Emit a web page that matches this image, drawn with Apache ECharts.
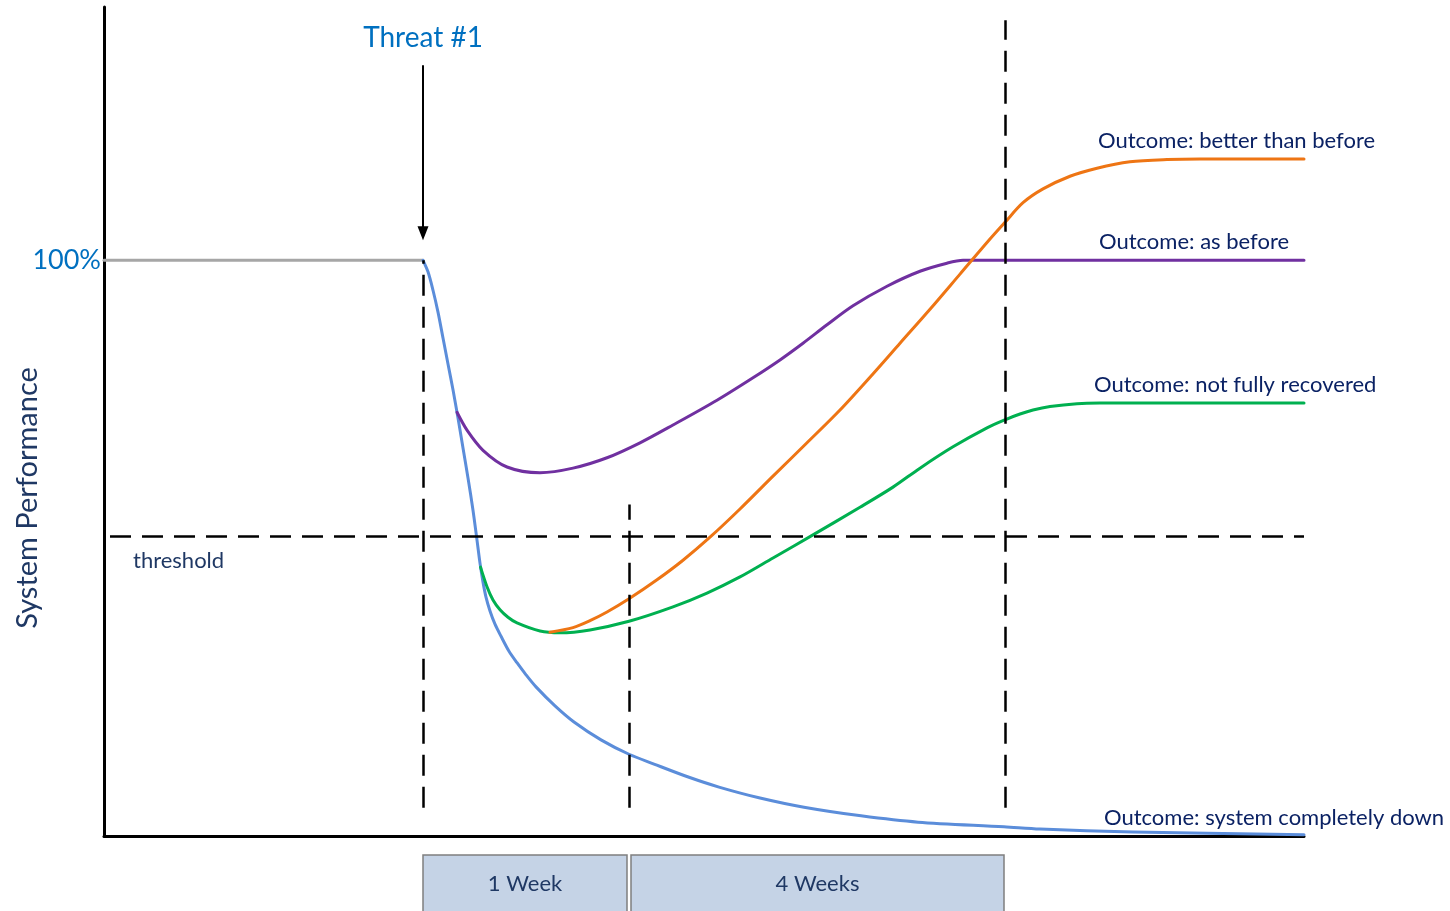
<!DOCTYPE html>
<html>
<head>
<meta charset="utf-8">
<script src="https://cdn.jsdelivr.net/npm/echarts@6/dist/echarts.min.js"></script>
<style>
  html, body { margin: 0; padding: 0; background: #fff; }
  #chart { width: 1450px; height: 911px; }
</style>
</head>
<body>
<div id="chart"></div>
<script>
// Time runs along x (schematic units), system performance in % along y.
const timeMax = 120;
const performanceMax = 144;

// Performance before the threat hits
const baseline = [[0, 100], [31.9, 100]];

// Outcome: system completely down
const systemDown = [
  [31.9, 100], [32.4, 98.0], [32.9, 94.8], [33.4, 91.0], [33.9, 86.5],
  [34.4, 82.0], [34.9, 77.5], [35.4, 72.6], [35.9, 67.4], [36.4, 62.2],
  [36.9, 56.6], [37.3, 51.4], [37.6, 47.4], [37.9, 44.1], [38.2, 41.5],
  [38.6, 39.1], [39.1, 36.8], [39.7, 34.7], [40.5, 32.1], [41.3, 30.1],
  [42.2, 28.0], [43.2, 25.9], [45.1, 22.6], [47.0, 19.8], [49.7, 16.7],
  [52.5, 14.2], [55.0, 12.5], [58.5, 10.2], [61.5, 8.5], [65.6, 6.6],
  [70.0, 5.0], [75.7, 3.5], [81.4, 2.4], [90.0, 1.6], [93.6, 1.2],
  [102.9, 0.7], [120, 0.2]
];

// Outcome: as before
const asBefore = [
  [35.3, 73.6], [36.3, 70.5], [37.9, 67.0], [40.3, 64.1], [43.6, 63.1],
  [46.9, 63.9], [50.3, 65.7], [53.6, 68.3], [56.9, 71.4], [61.3, 75.7],
  [64.9, 79.6], [67.6, 82.7], [69.9, 85.6], [72.3, 88.8], [74.9, 92.1],
  [78.3, 95.5], [81.6, 98.1], [84.3, 99.5], [85.9, 100], [87.6, 100],
  [120, 100]
];

// Outcome: not fully recovered
const notFullyRecovered = [
  [37.65, 46.7], [38.3, 43.3], [38.9, 41.0], [39.6, 39.3], [40.4, 38.0],
  [41.3, 37.0], [43.6, 35.6], [45.6, 35.3], [48.6, 35.8], [52.5, 37.3],
  [56.9, 39.8], [60.3, 42.2], [63.6, 45.0], [66.9, 48.3], [70.9, 52.3],
  [75.6, 57.1], [78.9, 60.6], [81.6, 63.9], [84.9, 67.6], [88.3, 70.9],
  [90.1, 72.3], [91.6, 73.3], [92.9, 74.0], [94.6, 74.6], [97.3, 75.1],
  [99.6, 75.2], [120, 75.2]
];

// Outcome: better than before (branches off the recovery curve near its minimum)
const betterThanBefore = [
  [44.6, 35.4], [46.9, 36.2], [48.6, 37.4], [50.3, 38.9], [52.5, 41.2],
  [55.3, 44.5], [57.9, 47.9], [60.6, 51.9], [63.6, 56.8], [66.9, 62.5],
  [70.3, 68.3], [73.6, 74.0], [76.6, 79.7], [79.6, 85.6], [82.6, 91.5],
  [85.6, 97.6], [88.6, 103.7], [90.1, 106.6], [91.9, 110.0], [93.9, 112.4],
  [96.6, 114.6], [99.3, 116.0], [102.6, 117.1], [106.3, 117.5], [109.6, 117.6],
  [120, 117.6]
];

// Reference markers
const thresholdLevel = 52.1;
const thresholdSpan = [0.6, 120];
const guideX = [31.9, 52.5, 90.1];        // threat, end of week 1, end of week 4
const guideTop = [100, 57.6, 141.7];
const guideBottom = 4.9;
const threatArrow = [133.9, 104.7];       // arrow from / to (performance %)

// Time phases shown below the axis
const phaseLabels = ['1 Week', '4 Weeks'];
const phaseStart = [31.9, 52.7];
const phaseEnd = [52.3, 90.0];

const outcomeLabels = [
  'Outcome: better than before',
  'Outcome: as before',
  'Outcome: not fully recovered',
  'Outcome: system completely down'
];
const outcomeLevels = [117.6, 100, 75.2, 0];

const FONT = 'Lato, "Open Sans", sans-serif';
const NAVY = '#0B2264';
const DARK = '#1F3864';

const chart = echarts.init(document.getElementById('chart'), null, { renderer: 'canvas' });

function curve(name, data, color) {
  return {
    name, type: 'line', data, smooth: 0.3, symbol: 'none', silent: true,
    lineStyle: { color, width: 3, cap: 'round', join: 'round' }, z: 3
  };
}

const dashed = { color: '#000', width: 2.5, type: [21, 11] };

const guideLines = guideX.map((x, i) => [
  { coord: [x, guideBottom], lineStyle: dashed },
  { coord: [x, guideTop[i]] }
]);
guideLines.push([
  { coord: [thresholdSpan[0], thresholdLevel], lineStyle: dashed },
  { coord: [thresholdSpan[1], thresholdLevel] }
]);
guideLines.push([
  { coord: [guideX[0], threatArrow[0]], symbol: 'none', lineStyle: { color: '#000', width: 2, type: 'solid' } },
  { coord: [guideX[0], threatArrow[1]], symbol: 'triangle', symbolSize: [11, 14] }
]);

chart.setOption({
  animation: false,
  backgroundColor: '#fff',
  grid: { left: 104, right: 146, top: 7, bottom: 75, containLabel: false, outerBoundsMode: 'none' },
  xAxis: {
    type: 'value', min: 0, max: timeMax,
    axisLine: { show: true, onZero: false, lineStyle: { color: '#000', width: 3 } },
    axisTick: { show: false }, axisLabel: { show: false }, splitLine: { show: false }
  },
  yAxis: {
    type: 'value', min: 0, max: performanceMax, interval: 100,
    axisLine: { show: true, lineStyle: { color: '#000', width: 3 } },
    axisTick: { show: false }, splitLine: { show: false },
    axisLabel: {
      margin: 3, color: '#0070C0', fontSize: 27, fontFamily: FONT,
      formatter: v => (v === 100 ? '100%' : '')
    }
  },
  series: [
    curve('baseline', baseline, '#A6A6A6'),
    curve('system completely down', systemDown, '#5B8DDA'),
    curve('as before', asBefore, '#7030A0'),
    curve('not fully recovered', notFullyRecovered, '#00B050'),
    curve('better than before', betterThanBefore, '#EE7514'),
    {
      name: 'guides', type: 'line', data: [], silent: true,
      markLine: {
        silent: true, symbol: 'none', label: { show: false },
        animation: false, data: guideLines
      }
    }
  ]
});

// Text annotations and phase boxes placed through the axes' scales
const px = p => chart.convertToPixel({ gridIndex: 0 }, p);
const graphics = [];

// vertical axis title
graphics.push({
  type: 'text', x: 28, y: 498, rotation: Math.PI / 2,
  style: { text: 'System Performance', fill: DARK, font: '29px ' + FONT, align: 'center', verticalAlign: 'middle' }
});

const threatPos = px([guideX[0], threatArrow[0]]);
graphics.push({
  type: 'text', x: threatPos[0], y: threatPos[1] - 27,
  style: { text: 'Threat #1', fill: '#0070C0', font: '28px ' + FONT, align: 'center', verticalAlign: 'middle' }
});

const thrPos = px([thresholdSpan[0], thresholdLevel]);
graphics.push({
  type: 'text', x: 133, y: thrPos[1] + 25,
  style: { text: 'threshold', fill: DARK, font: '22px ' + FONT, align: 'left', verticalAlign: 'middle' }
});

const labelLeft = [1098, 1099, 1094, 1104];
outcomeLabels.forEach((t, i) => {
  const p = px([0, outcomeLevels[i]]);
  graphics.push({
    type: 'text', x: labelLeft[i], y: p[1] - 18,
    style: { text: t, fill: NAVY, font: '22px ' + FONT, align: 'left', verticalAlign: 'middle' }
  });
});

phaseLabels.forEach((t, i) => {
  const a = px([phaseStart[i], 0]);
  const b = px([phaseEnd[i], 0]);
  graphics.push({
    type: 'rect', shape: { x: a[0], y: a[1] + 19, width: b[0] - a[0], height: 70 },
    style: { fill: '#C5D3E6', stroke: '#7F7F7F', lineWidth: 1.5 }
  });
  graphics.push({
    type: 'text', x: (a[0] + b[0]) / 2, y: a[1] + 48,
    style: { text: t, fill: DARK, font: '22px ' + FONT, align: 'center', verticalAlign: 'middle' }
  });
});

chart.setOption({ graphic: graphics });
</script>
</body>
</html>
